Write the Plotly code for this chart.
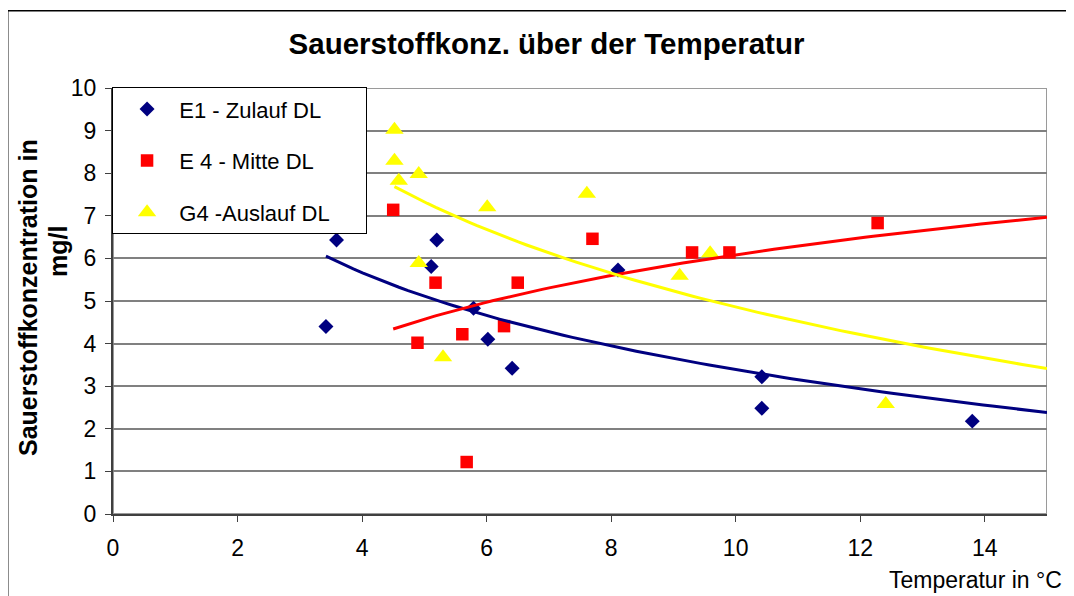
import numpy as np
import plotly.graph_objects as go

# ---- data ----
e1_temp = [3.59, 3.42, 5.20, 5.11, 5.79, 6.02, 6.41, 8.11, 10.42, 10.42, 13.80]
e1_o2 = [6.43, 4.40, 6.43, 5.81, 4.83, 4.10, 3.42, 5.73, 3.22, 2.48, 2.18]

e4_temp = [4.50, 4.89, 5.18, 5.61, 5.68, 6.28, 6.50, 7.70, 9.30, 9.90, 12.28]
e4_o2 = [7.14, 4.02, 5.43, 4.22, 1.22, 4.41, 5.43, 6.46, 6.14, 6.14, 6.83]

g4_temp = [4.52, 4.52, 4.59, 4.91, 6.01, 7.61, 4.91, 5.30, 9.10, 9.59, 12.41]
g4_o2 = [9.02, 8.29, 7.82, 7.98, 7.20, 7.52, 5.89, 3.68, 5.59, 6.12, 2.58]

series_names = ["E1 - Zulauf DL", "E 4 - Mitte DL", "G4 -Auslauf DL"]
x_ticks = [0, 2, 4, 6, 8, 10, 12, 14]
y_ticks = [0, 1, 2, 3, 4, 5, 6, 7, 8, 9, 10]
x_max = 15

FONT = "Liberation Sans, Arial, sans-serif"
NB = "\u00a0"

# page has an 8px body margin: figure pixel = page pixel - 8
W, H = 1066, 588
OFF = 8


def log_trend(xs, ys, x_end):
    """Logarithmic least-squares trend line (as in the spreadsheet), from min(x) to x_end."""
    b, a = np.polyfit(np.log(xs), ys, 1)
    xt = np.linspace(min(xs), x_end, 80)
    return xt, a + b * np.log(xt)


fig = go.Figure()

specs = [
    (e1_temp, e1_o2, series_names[0], "#000080", "diamond", 11.5),
    (e4_temp, e4_o2, series_names[1], "#FF0000", "square", 12.5),
    (g4_temp, g4_o2, series_names[2], "#FFFF00", "triangle-up", 16),
]

for i, (xs, ys, name, col, sym, sz) in enumerate(specs):
    fig.add_trace(go.Scatter(
        x=xs, y=ys, mode="markers", name=NB * 2 + name + NB * 5,
        legendgroup=f"g{i}",
        marker=dict(symbol=sym, size=sz, color=col, line=dict(width=0)),
    ))

for i, (xs, ys, name, col, sym, sz) in enumerate(specs):
    xt, yt = log_trend(xs, ys, x_max)
    fig.add_trace(go.Scatter(
        x=xt, y=yt, mode="lines", showlegend=False, hoverinfo="skip",
        line=dict(color=col, width=3),
    ))

fig.update_layout(
    width=W, height=H,
    margin=dict(l=113 - OFF, r=27, t=88 - OFF, b=82),
    paper_bgcolor="white", plot_bgcolor="white",
    font=dict(family=FONT, size=23, color="black"),
    title=dict(
        text="<b>Sauerstoffkonz. über der Temperatur</b>",
        x=(546.5 - OFF) / W, xref="container", xanchor="center",
        y=1 - (44 - OFF) / H, yref="container", yanchor="middle",
        font=dict(family=FONT, size=29.5, color="black"),
    ),
    showlegend=True,
    legend=dict(
        x=-0.001, y=1.002, xanchor="left", yanchor="top",
        bgcolor="white", bordercolor="black", borderwidth=1,
        font=dict(family=FONT, size=22, color="black"),
        tracegroupgap=20, indentation=14,
    ),
    xaxis=dict(
        range=[0, x_max], tickvals=x_ticks, showgrid=False, zeroline=False,
        showline=True, linecolor="#404040", linewidth=2,
        ticks="outside", ticklen=6, tickcolor="#404040", tickwidth=1,
        ticklabelstandoff=6,
        tickfont=dict(family=FONT, size=23),
    ),
    yaxis=dict(
        range=[0, 10], tickvals=y_ticks, showgrid=True, gridcolor="#808080",
        gridwidth=1.5, zeroline=False,
        showline=True, linecolor="#404040", linewidth=2,
        ticks="outside", ticklen=6, tickcolor="#404040", tickwidth=1,
        ticklabelstandoff=4,
        tickfont=dict(family=FONT, size=23),
    ),
    shapes=[
        # plot-area border (grey)
        dict(type="rect", xref="x", yref="y", x0=0, x1=x_max, y0=0, y1=10,
             line=dict(color="#9a9a9a", width=2), layer="below"),
        # outer chart frame
        dict(type="rect", xref="paper", yref="paper",
             x0=(7.7 - 113) / 934, x1=(1085 - 113) / 934,
             y0=(514 - 610) / 426, y1=(514 - 10.7) / 426,
             line=dict(color="black", width=1.5), layer="above"),
    ],
    annotations=[
        dict(text="<b>Sauerstoffkonzentration in</b>", textangle=-90,
             xref="paper", yref="paper", showarrow=False,
             x=(28 - 113) / 934, y=(514 - 298) / 426,
             xanchor="center", yanchor="middle",
             font=dict(family=FONT, size=25, color="black")),
        dict(text="<b>mg/l</b>", textangle=-90,
             xref="paper", yref="paper", showarrow=False,
             x=(58 - 113) / 934, y=(514 - 252) / 426,
             xanchor="center", yanchor="middle",
             font=dict(family=FONT, size=25, color="black")),
        dict(text="Temperatur in °C", xref="paper", yref="paper", showarrow=False,
             x=(1064 - 113) / 934, y=(514 - 580) / 426,
             xanchor="right", yanchor="middle",
             font=dict(family=FONT, size=23, color="black")),
    ],
)

fig.write_html("out.html")
